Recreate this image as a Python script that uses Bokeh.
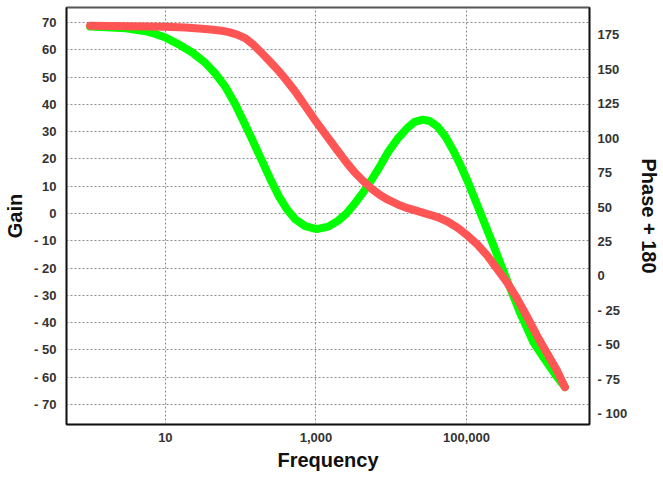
from bokeh.plotting import figure
from bokeh.models import (Range1d, LinearAxis, FixedTicker, CustomJSTickFormatter,
                          NumeralTickFormatter)
from bokeh.embed import file_html
from bokeh.resources import INLINE

# Gain curve (dB) against frequency
gain_freq = [1, 1.61, 2.97, 5.45, 7.38, 10, 15.0, 22.5, 33.7, 45.7, 61.9, 83.8, 116, 149,
             192, 248, 319, 410, 530, 718, 1021, 1459, 1976, 2541, 3281, 4217, 5433,
             7015, 9016, 12220, 16540, 20470, 26120, 32280, 41200, 52960, 68400,
             83570, 102600, 153500, 230600, 345400, 517400, 776000, 1164000,
             1578000, 2030000]
gain_db = [68.5, 68.3, 67.9, 66.8, 65.8, 64.5, 62.0, 59.1, 55.3, 51.4, 46.6, 40.3, 32.3,
           25.9, 19.3, 12.6, 6.5, 1.6, -2.1, -4.6, -5.7, -4.8, -2.6, 0.0, 3.7, 7.7, 12.2,
           17.1, 22.4, 27.5, 31.5, 33.6, 34.4, 33.9, 31.9, 28.0, 22.5,
           17.6, 12.1, 0.1, -12.1, -24.5, -36.5, -47.3, -54.5,
           -59.7, -63.6]

# Phase curve (degrees, shifted by +180) against frequency
phase_freq = [1, 10, 18.4, 33.7, 43.0, 56.0, 69.8, 89.9, 116, 149, 192, 248, 319, 410,
              530, 718, 1021, 1459, 1976, 2541, 3281, 4217, 5433, 7015, 9016, 12220,
              16540, 22440, 41200, 55850, 75700, 102600, 138700, 187900, 254700,
              345400, 467700, 633800, 859000, 1164000, 1578000, 2030000]
phase_plus_180 = [181.6, 180.8, 180.3, 179.2, 178.7, 177.9, 176.9, 175.1, 172.4, 167.6,
                  161.6, 155.3, 148.8, 141.7, 133.9, 123.5, 111.4, 100.0, 90.3, 82.4,
                  75.1, 69.1, 63.5, 58.9, 55.3, 51.9, 49.2, 47.0, 42.7, 39.5, 35.0,
                  29.4, 22.9, 14.9, 5.2, -4.7, -16.3, -29.4, -43.2, -55.8, -68.2, -80.7]

freq_ticks = [10, 1000, 100000]
gain_ticks = list(range(-70, 71, 10))
phase_ticks = list(range(-100, 176, 25))

TICK_FONT = "Liberation Sans"
TICK_SIZE = "13px"
TICK_COLOR = "#333333"
TITLE_SIZE = "20px"

p = figure(width=663, height=477, x_axis_type="log",
           x_range=Range1d(0.486, 4.3e6), y_range=Range1d(-77.3, 75.5),
           output_backend="svg", toolbar_location=None,
           min_border_left=66, min_border_right=70,
           min_border_top=7, min_border_bottom=53)
p.background_fill_color = "white"
p.border_fill_color = "white"
p.outline_line_color = "#555555"
p.outline_line_width = 2

p.extra_y_ranges = {"phase": Range1d(-107.8, 194.8)}

signed = CustomJSTickFormatter(code="return tick < 0 ? '- ' + Math.abs(tick) : '' + tick;")

# bottom axis
xa = p.xaxis[0]
xa.ticker = FixedTicker(ticks=freq_ticks)
xa.formatter = NumeralTickFormatter(format="0,0")
xa.axis_label = "Frequency"
xa.axis_label_standoff = 4
xa.major_label_standoff = 8

# left axis
ya = p.yaxis[0]
ya.ticker = FixedTicker(ticks=gain_ticks)
ya.formatter = signed
ya.axis_label = "Gain"
ya.axis_label_standoff = 5
ya.major_label_standoff = 10

# right axis
ra = LinearAxis(y_range_name="phase", ticker=FixedTicker(ticks=phase_ticks),
                formatter=signed, axis_label="Phase + 180")
ra.axis_label_standoff = 8
ra.major_label_standoff = 8
p.add_layout(ra, "right")

for ax in (xa, ya, ra):
    ax.major_tick_in = 0
    ax.major_tick_out = 0
    ax.minor_tick_in = 0
    ax.minor_tick_out = 0
    ax.axis_line_color = "#111111"
    ax.axis_line_width = 1.5
    ax.major_label_text_font = TICK_FONT
    ax.major_label_text_font_size = TICK_SIZE
    ax.major_label_text_font_style = "bold"
    ax.major_label_text_color = TICK_COLOR
    ax.axis_label_text_font = TICK_FONT
    ax.axis_label_text_font_size = TITLE_SIZE
    ax.axis_label_text_font_style = "bold"
    ax.axis_label_text_color = "#111111"

for g in (p.xgrid[0], p.ygrid[0]):
    g.grid_line_color = "#8a8a8a"
    g.grid_line_dash = "2 2"
    g.grid_line_width = 1
p.xgrid[0].ticker = FixedTicker(ticks=freq_ticks)
p.ygrid[0].ticker = FixedTicker(ticks=gain_ticks)

p.line(gain_freq, gain_db, line_color="#00ff00", line_width=8,
       line_join="round", line_cap="round")
p.line(phase_freq, phase_plus_180, y_range_name="phase", line_color="#ff5555",
       line_width=8, line_join="round", line_cap="round")

open("out.html", "w").write(file_html(p, INLINE))
